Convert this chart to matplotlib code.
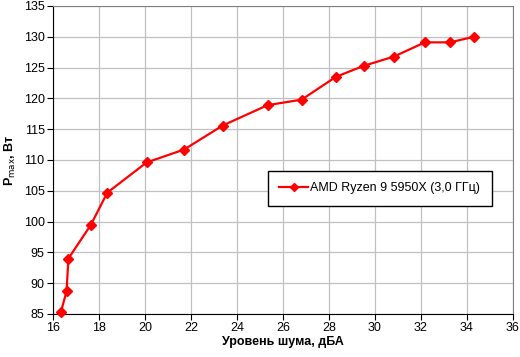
import matplotlib
matplotlib.use("Agg")
import matplotlib.pyplot as plt

noise = [16.35, 16.59, 16.67, 17.65, 18.36, 20.07, 21.7, 23.38, 25.33, 26.81,
         28.3, 29.52, 30.83, 32.17, 33.26, 34.3]
pmax = [85.4, 88.7, 94.0, 99.5, 104.7, 109.6, 111.7, 115.6, 118.9, 119.8,
        123.5, 125.3, 126.8, 129.1, 129.1, 130.0]
label = "AMD Ryzen 9 5950X (3,0 ГГц)"

plt.rcParams['font.family'] = ['Liberation Sans', 'DejaVu Sans']
plt.rcParams['font.size'] = 9

fig = plt.figure(figsize=(5.2, 3.57), dpi=100)
ax = fig.add_axes([53/520, 1 - 314/357, 460/520, 308/357])

ax.plot(noise, pmax, color='#ff0000', lw=1.6, marker='D', ms=5.5,
        markeredgecolor='#ff0000', label=label, clip_on=False, zorder=3)

ax.set_xlim(16, 36)
ax.set_ylim(85, 135)
ax.set_xticks(range(16, 37, 2))
ax.set_yticks(range(85, 136, 5))
ax.grid(True, color='#c0c0c0', lw=0.9)
ax.set_axisbelow(True)
for s in ['top', 'right']:
    ax.spines[s].set_color('#808080')
for s in ['left', 'bottom']:
    ax.spines[s].set_color('black')
ax.tick_params(direction='out', length=4, width=0.8, labelsize=9, pad=2)

ax.set_xlabel('Уровень шума, дБА', fontweight='bold', fontsize=9, labelpad=1)
ax.set_ylabel('P$_{\\rm max}$, Вт', fontweight='bold', fontsize=9, labelpad=4)

leg = ax.legend(loc='upper left', bbox_to_anchor=((268 - 53) / 460, (314 - 171) / 308),
                borderaxespad=0, frameon=True, fancybox=False, edgecolor='black',
                framealpha=1, fontsize=9, handlelength=2.3, handletextpad=0.2,
                borderpad=0.9, markerscale=0.8)
leg.get_frame().set_linewidth(1.0)

fig.savefig('out.png', dpi=100)
